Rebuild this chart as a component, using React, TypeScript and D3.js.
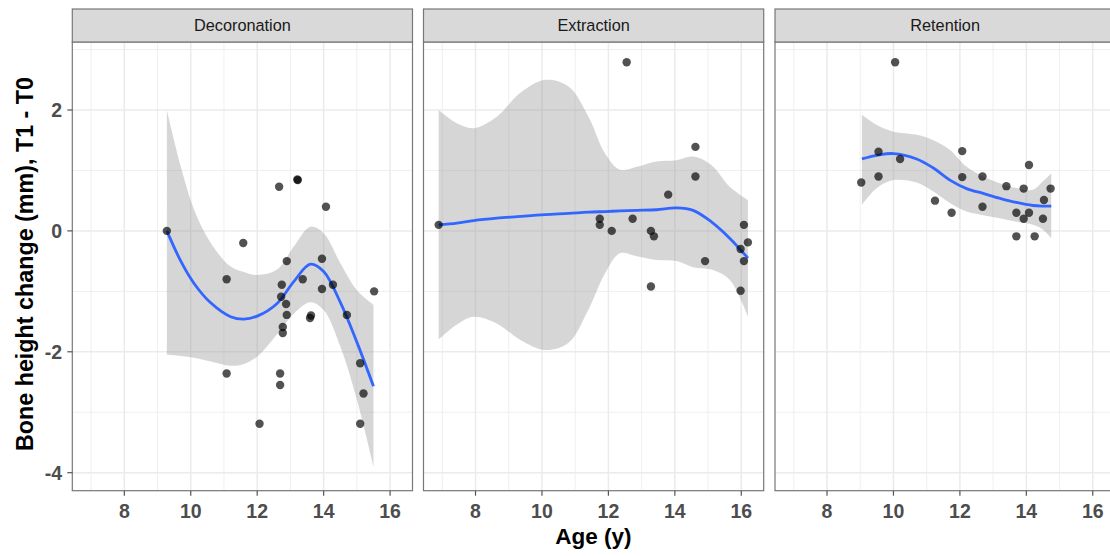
import React from "react";
import * as d3 from "d3";

// ---------- data ----------
const panels = ["Decoronation", "Extraction", "Retention"];

const decoronationAge = [9.28, 11.58, 12.66, 13.21, 13.22, 14.07, 12.89, 13.95, 13.37, 11.08, 12.74, 12.72, 12.87, 12.89, 12.77, 12.77, 13.95, 14.28, 15.52, 13.62, 13.59, 14.70, 15.10, 15.20, 15.10, 12.07, 11.08, 12.69, 12.69];
const decoronationChange = [0.0, -0.2, 0.73, 0.85, 0.84, 0.4, -0.5, -0.46, -0.8, -0.8, -0.89, -1.09, -1.21, -1.39, -1.59, -1.69, -0.96, -0.89, -1.0, -1.4, -1.44, -1.39, -2.19, -2.69, -3.19, -3.19, -2.36, -2.36, -2.55];

const extractionAge = [6.89, 11.74, 11.74, 12.1, 12.55, 12.73, 13.28, 13.37, 13.8, 14.62, 14.62, 14.91, 16.08, 16.2, 15.98, 16.08, 13.28, 15.98];
const extractionChange = [0.1, 0.2, 0.1, 0.0, 2.79, 0.2, 0.0, -0.09, 0.6, 1.39, 0.9, -0.5, 0.1, -0.19, -0.3, -0.5, -0.92, -0.99];

const retentionAge = [9.03, 9.55, 9.55, 10.05, 10.2, 11.25, 11.75, 12.07, 12.07, 12.68, 12.68, 13.4, 13.7, 13.7, 13.92, 14.08, 14.08, 13.92, 14.25, 14.53, 14.73, 14.5];
const retentionChange = [0.8, 1.31, 0.9, 2.79, 1.19, 0.5, 0.3, 1.32, 0.89, 0.9, 0.4, 0.74, 0.3, -0.09, 0.7, 1.09, 0.3, 0.2, -0.09, 0.51, 0.7, 0.2];

// smooth fits (loess) with confidence bands
const decoronationFitAge = [9.28, 9.7, 10.1, 10.6, 11.2, 11.6, 12.0, 12.6, 13.1, 13.6, 14.0, 14.5, 15.0, 15.5];
const decoronationFit = [0, -0.5, -0.87, -1.19, -1.42, -1.46, -1.41, -1.2, -0.84, -0.55, -0.67, -1.18, -1.84, -2.57];
const decoronationLower = [-2.05, -2.07, -2.1, -2.16, -2.23, -2.2, -2.08, -1.71, -1.37, -1.18, -1.31, -1.91, -2.79, -3.9];
const decoronationUpper = [2.0, 1.06, 0.35, -0.2, -0.59, -0.68, -0.73, -0.64, -0.26, 0.07, -0.04, -0.53, -0.98, -1.22];

const extractionFitAge = [6.89, 7.44, 7.94, 8.64, 9.34, 10.1, 10.8, 11.4, 11.9, 12.35, 12.85, 13.45, 14.05, 14.55, 15.1, 15.65, 16.2];
const extractionFit = [0.1, 0.13, 0.17, 0.21, 0.24, 0.27, 0.29, 0.31, 0.32, 0.33, 0.34, 0.35, 0.38, 0.34, 0.15, -0.12, -0.45];
const extractionLower = [-1.8, -1.55, -1.42, -1.53, -1.8, -1.97, -1.85, -1.3, -0.7, -0.37, -0.42, -0.48, -0.5, -0.6, -0.64, -0.81, -1.42];
const extractionUpper = [2.0, 1.78, 1.7, 1.89, 2.28, 2.5, 2.39, 1.89, 1.28, 1.01, 1.06, 1.15, 1.17, 1.23, 1.09, 0.73, 0.51];

const retentionFitAge = [9.05, 9.5, 10.0, 10.7, 11.2, 11.7, 12.2, 12.7, 13.2, 13.7, 14.2, 14.5, 14.75];
const retentionFit = [1.19, 1.25, 1.28, 1.19, 1.04, 0.84, 0.7, 0.62, 0.54, 0.47, 0.42, 0.41, 0.41];
const retentionLower = [0.43, 0.71, 0.84, 0.8, 0.65, 0.46, 0.32, 0.26, 0.21, 0.15, 0.1, 0.02, -0.12];
const retentionUpper = [1.92, 1.75, 1.64, 1.59, 1.5, 1.34, 1.06, 0.9, 0.79, 0.71, 0.68, 0.82, 0.95];

const xTicks = [8, 10, 12, 14, 16];
const xMinor = [7, 9, 11, 13, 15];
const yTicks = [-4, -2, 0, 2];
const yMinor = [-3, -1, 1, 3];

const pointsAge = [decoronationAge, extractionAge, retentionAge];
const pointsChange = [decoronationChange, extractionChange, retentionChange];
const fitAges = [decoronationFitAge, extractionFitAge, retentionFitAge];
const fits = [decoronationFit, extractionFit, retentionFit];
const lowers = [decoronationLower, extractionLower, retentionLower];
const uppers = [decoronationUpper, extractionUpper, retentionUpper];

// ---------- layout ----------
const W = 1110;
const H = 556;
const panelLeft = [72.3, 423.5, 775];
const panelW = 340.2;
const stripTop = 9;
const panelTop = 42;
const panelBottom = 490.7;
const FONT = "'Liberation Sans', Arial, Helvetica, sans-serif";

export default function App() {
  const y = d3.scaleLinear().domain([-4.298, 3.125]).range([panelBottom, panelTop]);

  return (
    <svg width={W} height={H} style={{ position: "absolute", left: 0, top: 0, background: "#fff" }} fontFamily={FONT}>
      <rect x={0} y={0} width={W} height={H} fill="#ffffff" />
      {panels.map((name, p) => {
        const x0 = panelLeft[p];
        const x = d3.scaleLinear().domain([6.434, 16.675]).range([x0, x0 + panelW]);
        const ages = fitAges[p];
        const idx = d3.range(ages.length);
        const area = d3
          .area<number>()
          .x((i) => x(ages[i]))
          .y0((i) => y(lowers[p][i]))
          .y1((i) => y(uppers[p][i]))
          .curve(d3.curveCatmullRom.alpha(0.5));
        const line = d3
          .line<number>()
          .x((i) => x(ages[i]))
          .y((i) => y(fits[p][i]))
          .curve(d3.curveCatmullRom.alpha(0.5));
        return (
          <g key={name}>
            <rect x={x0} y={panelTop} width={panelW} height={panelBottom - panelTop} fill="#fff" />
            {xMinor.map((t) => (
              <line key={"xm" + t} x1={x(t)} x2={x(t)} y1={panelTop} y2={panelBottom} stroke="#ebebeb" strokeWidth={0.8} />
            ))}
            {yMinor.map((t) => (
              <line key={"ym" + t} x1={x0} x2={x0 + panelW} y1={y(t)} y2={y(t)} stroke="#ebebeb" strokeWidth={0.8} />
            ))}
            {xTicks.map((t) => (
              <line key={"xM" + t} x1={x(t)} x2={x(t)} y1={panelTop} y2={panelBottom} stroke="#ebebeb" strokeWidth={1.5} />
            ))}
            {yTicks.map((t) => (
              <line key={"yM" + t} x1={x0} x2={x0 + panelW} y1={y(t)} y2={y(t)} stroke="#ebebeb" strokeWidth={1.5} />
            ))}
            <path d={area(idx) || ""} fill="#999999" fillOpacity={0.4} />
            <path d={line(idx) || ""} fill="none" stroke="#3366FF" strokeWidth={2.8} />
            {pointsAge[p].map((a, i) => (
              <circle key={"pt" + i} cx={x(a)} cy={y(pointsChange[p][i])} r={4.2} fill="#000" fillOpacity={0.68} />
            ))}
            <rect x={x0} y={panelTop} width={panelW} height={panelBottom - panelTop} fill="none" stroke="#777" strokeWidth={1.2} />
            {/* strip */}
            <rect x={x0} y={stripTop} width={panelW} height={panelTop - stripTop} fill="#d9d9d9" stroke="#777" strokeWidth={1.2} />
            <text x={x0 + panelW / 2} y={(stripTop + panelTop) / 2 + 5.8} textAnchor="middle" fontSize={16.3} fill="#1a1a1a">
              {name}
            </text>
            {/* x axis */}
            {xTicks.map((t) => (
              <g key={"xt" + t}>
                <line x1={x(t)} x2={x(t)} y1={panelBottom} y2={panelBottom + 5} stroke="#555" strokeWidth={1.2} />
                <text x={x(t)} y={518.3} textAnchor="middle" fontSize={19.5} fontWeight="bold" fill="#4d4d4d">
                  {t}
                </text>
              </g>
            ))}
          </g>
        );
      })}
      {/* y axis on first panel */}
      {yTicks.map((t) => (
        <g key={"yt" + t}>
          <line x1={panelLeft[0] - 5} x2={panelLeft[0]} y1={y(t)} y2={y(t)} stroke="#555" strokeWidth={1.2} />
          <text x={62} y={y(t) + 7.2} textAnchor="end" fontSize={19.5} fontWeight="bold" fill="#4d4d4d">
            {t}
          </text>
        </g>
      ))}
      <text x={593.5} y={544} textAnchor="middle" fontSize={22.5} fontWeight="bold" fill="#000">
        Age (y)
      </text>
      <text
        transform={`translate(32.5, 264) rotate(-90)`}
        textAnchor="middle"
        fontSize={23.3}
        fontWeight="bold"
        fill="#000"
      >
        Bone height change (mm), T1 - T0
      </text>
    </svg>
  );
}
